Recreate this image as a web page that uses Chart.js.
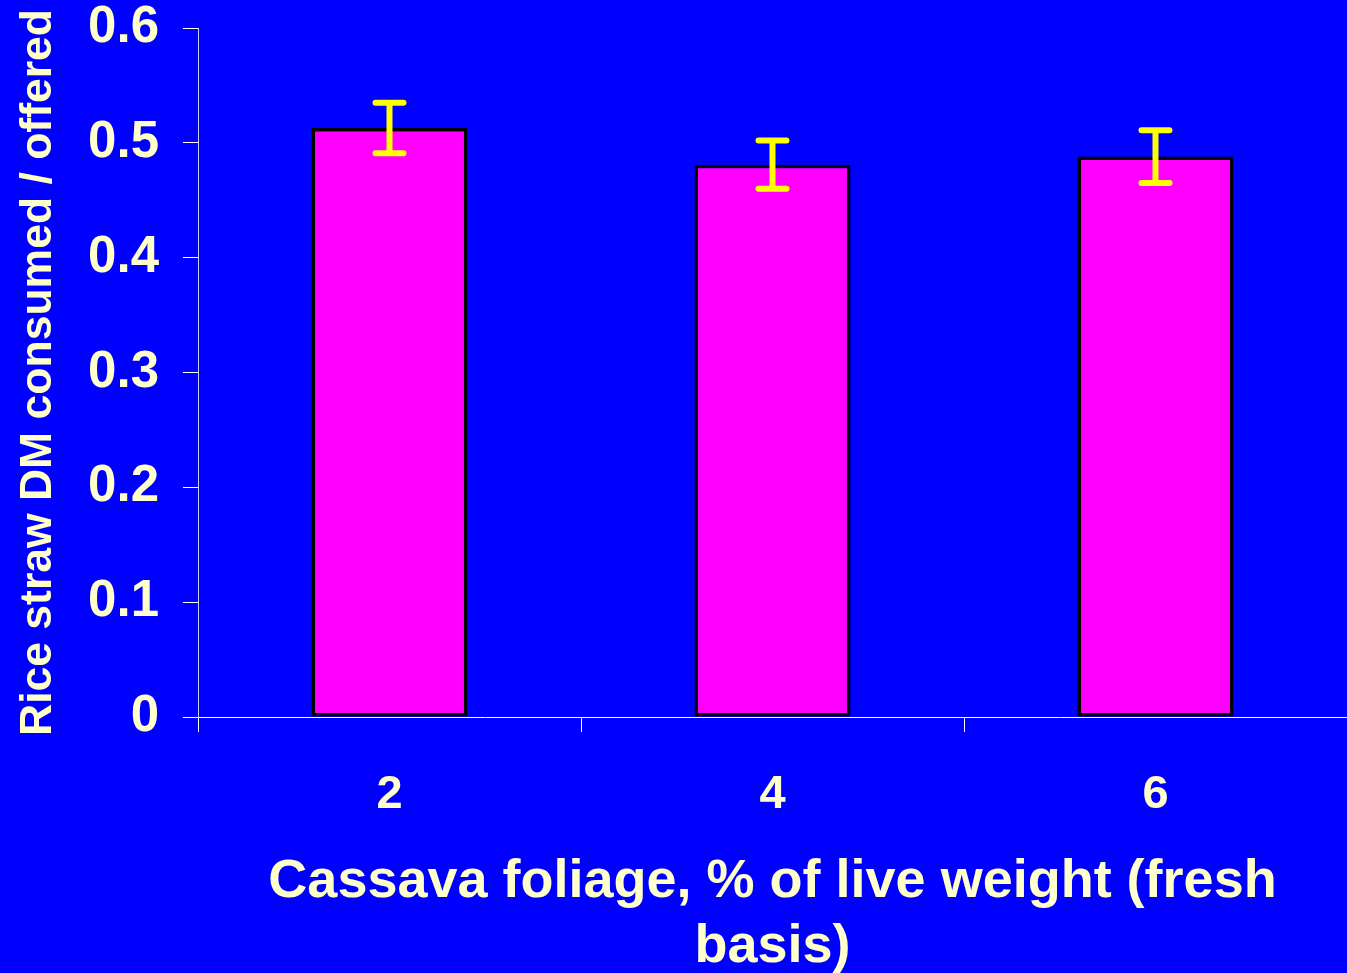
<!DOCTYPE html>
<html>
<head>
<meta charset="utf-8">
<script src="https://cdn.jsdelivr.net/npm/chart.js@4.4.1/dist/chart.umd.min.js"></script>
<style>
  html, body { margin: 0; padding: 0; background: #0000ff; }
  #wrap { width: 1347px; height: 973px; }
</style>
</head>
<body>
<div id="wrap"><canvas id="chart"></canvas></div>
<script>
const categories = ['2', '4', '6'];
const consumedValues = [0.513, 0.481, 0.488];
const errorValues = [0.022, 0.021, 0.023];
const yTicks = [0, 0.1, 0.2, 0.3, 0.4, 0.5, 0.6];

const textColor = '#ffffcc';

// draws the yellow error bars on top of each bar
const errorBarPlugin = {
    id: 'errorBars',
    afterDatasetsDraw(chart) {
        const ctx = chart.ctx;
        const meta = chart.getDatasetMeta(0);
        const yScale = chart.scales.y;
        ctx.save();
        ctx.strokeStyle = '#ffff00';
        ctx.lineWidth = 6;
        ctx.lineCap = 'round';
        meta.data.forEach((bar, i) => {
            const v = consumedValues[i];
            const e = errorValues[i];
            const yTop = yScale.getPixelForValue(v + e);
            const yBot = yScale.getPixelForValue(v - e);
            const x = bar.x;
            ctx.beginPath();
            ctx.moveTo(x, yTop);
            ctx.lineTo(x, yBot);
            ctx.moveTo(x - 14, yTop);
            ctx.lineTo(x + 14, yTop);
            ctx.moveTo(x - 14, yBot);
            ctx.lineTo(x + 14, yBot);
            ctx.stroke();
        });
        ctx.restore();
    }
};

const ctx = document.getElementById('chart').getContext('2d');
new Chart(ctx, {
    type: 'bar',
    data: {
        labels: categories,
        datasets: [{
            data: consumedValues,
            backgroundColor: '#ff00ff',
            borderColor: '#000000',
            borderWidth: 3.5,
            borderSkipped: false,
            barPercentage: 0.407,
            categoryPercentage: 1.0
        }]
    },
    options: {
        responsive: true,
        maintainAspectRatio: false,
        animation: false,
        layout: { padding: { top: 28, right: 0, left: 0, bottom: 0 } },
        plugins: {
            legend: { display: false },
            tooltip: { enabled: false }
        },
        scales: {
            x: {
                afterFit: (scale) => {
                    scale.height = 256;
                    scale.paddingLeft = 0;
                    scale.paddingRight = 0;
                },
                grid: {
                    display: true,
                    drawOnChartArea: false,
                    offset: true,
                    color: '#ffffff',
                    tickLength: 15,
                    lineWidth: 1
                },
                border: { color: '#ffffff', width: 1 },
                ticks: {
                    color: textColor,
                    padding: 35,
                    font: { family: 'Liberation Sans, Arial', weight: 'bold', size: 47 }
                },
                title: {
                    display: true,
                    text: ['Cassava foliage, % of live weight (fresh', 'basis)'],
                    color: textColor,
                    padding: { top: 13, bottom: -7 },
                    font: { family: 'Liberation Sans, Arial', weight: 'bold', size: 54, lineHeight: 1.21 }
                }
            },
            y: {
                min: 0,
                max: 0.6,
                afterFit: (scale) => {
                    scale.width = 198;
                    scale.paddingTop = 0;
                    scale.paddingBottom = 0;
                },
                afterBuildTicks: (scale) => {
                    scale.ticks = yTicks.map(v => ({ value: v }));
                },
                grid: {
                    display: true,
                    drawOnChartArea: false,
                    color: '#ffffff',
                    tickLength: 15,
                    lineWidth: 1
                },
                border: { color: '#d0d0ff', width: 1 },
                ticks: {
                    color: textColor,
                    padding: 24,
                    callback: (v) => v === 0 ? '0' : v.toFixed(1),
                    font: { family: 'Liberation Sans, Arial', weight: 'bold', size: 51 }
                },
                title: {
                    display: true,
                    text: 'Rice straw DM consumed / offered',
                    color: textColor,
                    padding: { top: 12, bottom: 0 },
                    font: { family: 'Liberation Sans, Arial', weight: 'bold', size: 44.5 }
                }
            }
        }
    },
    plugins: [errorBarPlugin]
});
</script>
</body>
</html>
